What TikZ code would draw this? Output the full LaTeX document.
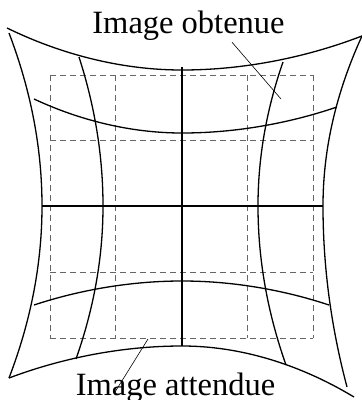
\documentclass[tikz,border=0pt]{standalone}
\usepackage{fontspec}
\setmainfont{Liberation Serif}
\usepackage{tikz}
\usetikzlibrary{positioning, calc}

\tikzset{
  distorted/.style={line width=1.3pt, black},
  ideal/.style={gray!80!black, line width=0.7pt, dash pattern=on 6pt off 4pt},
  leader/.style={line width=0.6pt},
  label/.style={inner sep=0pt, font=\fontsize{32.5}{39}\selectfont}
}

\begin{document}
\begin{tikzpicture}[x=1pt, y=-1pt]
    \useasboundingbox (0,0) rectangle (362,400);

    % lưới nét đứt (Image attendue)
    \foreach \p in {50,115.75,181.5,247.25,313} {
        \draw[ideal] (\p,75) -- (\p,338);
        \draw[ideal] (50,\p+25) -- (313,\p+25);
    }

    % các đường ngang bị méo
    \draw[distorted] (7,28) parabola bend (182,70) (362,36);
    \draw[distorted] (34,99) parabola bend (182,133) (337,107);
    \draw[distorted] (42,206) -- (323,206);
    \draw[distorted] (34,305) parabola bend (182,281) (329,305);
    \draw[distorted] (9,378) parabola bend (182,346) (354,397);

    % các đường dọc bị méo
    \draw[distorted] (9,33) .. controls (31,90.7) and (42,148.3) .. (42,206)
                            .. controls (42,263.3) and (31,320.7) .. (9,378);
    \draw[distorted] (79,57) .. controls (95,106.7) and (103,156.3) .. (103,206)
                             .. controls (103,257) and (94,308) .. (76,359);
    \draw[distorted] (182,67) -- (182,346);
    \draw[distorted] (283,62) .. controls (266.3,110) and (258,158) .. (258,206)
                              .. controls (258,259) and (267.3,312) .. (286,365);
    \draw[distorted] (362,36) .. controls (336,92.7) and (323,149.3) .. (323,206)
                              .. controls (323,266.3) and (331,326.7) .. (347,387);

    % nhãn
    \node[label, anchor=base] (obtenue) at (188.5,33) {Image obtenue};
    \coordinate (obtPt) at (281,99);
    \draw[leader] (obtenue.south) ++(43.5,2) -- (obtPt);

    \node[label, anchor=base] (attendue) at (175.5,395) {Image attendue};
    \coordinate (attPt) at (148,339);
    \draw[leader] (attPt) -- ($(attendue.base)+(-60.5,-3)$);
\end{tikzpicture}
\end{document}
